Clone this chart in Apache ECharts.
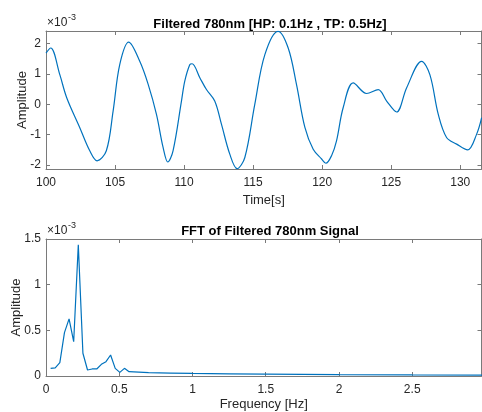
<!DOCTYPE html>
<html lang="en">
<head>
    <meta charset="UTF-8">
    <title>Filtered 780nm</title>
    <script src="https://cdn.jsdelivr.net/npm/echarts@6/dist/echarts.min.js"></script>
    <style>
        html, body { margin: 0; padding: 0; background: #fff; }
    </style>
</head>
<body>
<div id="chartmain" style="width:482px; height:412px;"></div>
<script type="text/javascript">

    // top panel: filtered signal (amplitude in units of 1e-3)
    var timeS = [100.0, 100.34, 101.0, 101.5, 102.44, 103.17, 103.7, 104.37, 104.86, 105.34,
        105.99, 106.79, 107.4, 108.0, 108.48, 108.82, 109.2, 109.81, 110.05, 110.41,
        110.58, 111.14, 111.62, 112.22, 112.71, 113.31, 113.84, 114.4, 115.12, 115.85,
        116.81, 117.54, 118.14, 118.75, 119.35, 119.96, 120.27, 120.68, 121.04, 121.52,
        122.25, 123.22, 124.06, 124.67, 125.39, 126.12, 127.2, 127.8, 128.41, 129.01,
        129.74, 130.54, 131.19, 131.55];
    var ampFiltered = [1.69, 1.86, 0.98, 0.22, -0.76, -1.53, -1.86, -1.53, -0.22, 1.31,
        2.05, 1.42, 0.66, -0.33, -1.42, -1.90, -1.53, 0.11, 0.77, 1.31,
        1.34, 0.88, 0.49, 0.11, -0.66, -1.64, -2.12, -1.75, 0.0, 1.64,
        2.41, 1.86, 0.66, -0.76, -1.48, -1.80, -1.94, -1.69, -1.2, -0.11,
        0.71, 0.36, 0.49, 0.11, -0.25, 0.55, 1.42, 0.98, -0.33, -1.09,
        -1.31, -1.50, -0.98, -0.44];

    // bottom panel: FFT (amplitude in units of 1e-3)
    var freqHz = [0.0315, 0.063, 0.0945, 0.126, 0.1575, 0.189, 0.2205, 0.252, 0.2835, 0.315,
        0.3465, 0.378, 0.4095, 0.441, 0.4725, 0.504, 0.5355, 0.567, 0.7, 0.85,
        1.0, 1.25, 1.5, 2.0, 2.5, 2.98];
    var fftAmp = [0.084, 0.09, 0.146, 0.475, 0.625, 0.376, 1.436, 0.249, 0.066, 0.077,
        0.077, 0.128, 0.157, 0.23, 0.084, 0.04, 0.084, 0.047, 0.036, 0.032,
        0.028, 0.024, 0.02, 0.015, 0.012, 0.01];

    var timeTicks = [100, 105, 110, 115, 120, 125, 130];
    var ampTicks = [-2, -1, 0, 1, 2];
    var freqTicks = [0, 0.5, 1, 1.5, 2, 2.5];
    var fftTicks = [0, 0.5, 1, 1.5];

    function pairs(xs, ys) {
        var out = [];
        for (var i = 0; i < xs.length; i++) {
            out.push([xs[i], ys[i]]);
        }
        return out;
    }

    var font = '"Liberation Sans", Arial, Helvetica, sans-serif';
    var axisCol = '#7a7a7a';
    var textCol = '#262626';

    function mkAxis(idx, pos, min, max, ticks, labels, name, nameGap, isY) {
        return {
            type: 'value',
            gridIndex: idx,
            position: pos,
            min: min,
            max: max,
            name: name || '',
            nameLocation: 'middle',
            nameGap: nameGap || 0,
            nameMoveOverlap: false,
            nameTextStyle: { fontFamily: font, fontSize: 13, color: textCol },
            axisLine: { show: true, onZero: false, lineStyle: { color: axisCol, width: 1 } },
            axisTick: { show: true, inside: true, length: 4, customValues: ticks,
                lineStyle: { color: axisCol, width: 1 } },
            axisLabel: {
                show: labels,
                customValues: ticks,
                margin: isY ? 5 : 8,
                fontFamily: font,
                fontSize: 12,
                color: textCol
            },
            splitLine: { show: false }
        };
    }

    var option = {
        animation: false,
        backgroundColor: '#ffffff',
        title: [
            { text: 'Filtered 780nm [HP: 0.1Hz , TP: 0.5Hz]', left: 265, top: 13, textAlign: 'center',
                textStyle: { fontFamily: font, fontSize: 13, fontWeight: 'bold', color: '#000' } },
            { text: 'FFT of Filtered 780nm Signal', left: 265, top: 220, textAlign: 'center',
                textStyle: { fontFamily: font, fontSize: 13, fontWeight: 'bold', color: '#000' } }
        ],
        grid: [
            { left: 46, top: 31, right: 0.5, height: 138, outerBoundsMode: 'none', containLabel: false },
            { left: 46, top: 239, right: 0.5, height: 137, outerBoundsMode: 'none', containLabel: false }
        ],
        xAxis: [
            mkAxis(0, 'bottom', 100, 131.54, timeTicks, true, 'Time[s]', 25),
            mkAxis(0, 'top', 100, 131.54, timeTicks, false),
            mkAxis(1, 'bottom', 0, 2.973, freqTicks, true, 'Frequency [Hz]', 22),
            mkAxis(1, 'top', 0, 2.973, freqTicks, false)
        ],
        yAxis: [
            mkAxis(0, 'left', -2.13, 2.42, ampTicks, true, 'Amplitude', 17, true),
            mkAxis(0, 'right', -2.13, 2.42, ampTicks, false),
            mkAxis(1, 'left', 0, 1.5, fftTicks, true, 'Amplitude', 23, true),
            mkAxis(1, 'right', 0, 1.5, fftTicks, false)
        ],
        graphic: [
            { type: 'text', left: 47, top: 17, style: { text: '×10', font: '12px ' + font, fill: textCol } },
            { type: 'text', left: 68, top: 13, style: { text: '-3', font: '9px ' + font, fill: textCol } },
            { type: 'text', left: 47, top: 225, style: { text: '×10', font: '12px ' + font, fill: textCol } },
            { type: 'text', left: 68, top: 221, style: { text: '-3', font: '9px ' + font, fill: textCol } }
        ],
        series: [
            {
                name: 'filtered',
                type: 'line',
                xAxisIndex: 0,
                yAxisIndex: 0,
                data: pairs(timeS, ampFiltered),
                smooth: 0.35,
                showSymbol: false,
                lineStyle: { color: '#0072BD', width: 1.2 }
            },
            {
                name: 'fft',
                type: 'line',
                xAxisIndex: 2,
                yAxisIndex: 2,
                data: pairs(freqHz, fftAmp),
                showSymbol: false,
                lineStyle: { color: '#0072BD', width: 1.2 }
            }
        ]
    };

    var myChart = echarts.init(document.getElementById('chartmain'));
    myChart.setOption(option);

</script>
</body>
</html>
